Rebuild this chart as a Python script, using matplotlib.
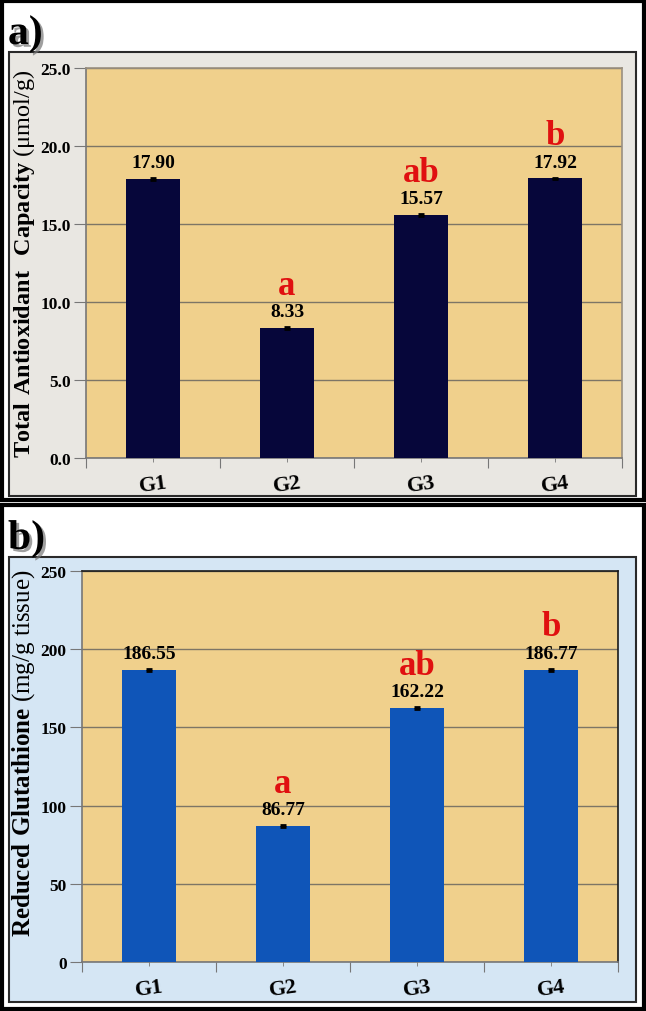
import matplotlib
matplotlib.use("Agg")
import matplotlib.pyplot as plt
import matplotlib.patheffects as pe
from matplotlib.patches import Rectangle
import numpy as np

plt.rcParams['font.family'] = ['Liberation Serif', 'DejaVu Serif']
plt.rcParams['mathtext.fontset'] = 'custom'
plt.rcParams['mathtext.rm'] = 'Liberation Serif'
plt.rcParams['mathtext.bf'] = 'Liberation Serif:bold'

groups = ["G1", "G2", "G3", "G4"]

tac_values = [17.90, 8.33, 15.57, 17.92]
tac_err = [0.05, 0.05, 0.05, 0.05]
tac_letters = ["", "a", "ab", "b"]

gsh_values = [186.55, 86.77, 162.22, 186.77]
gsh_err = [0.6, 0.6, 0.6, 0.6]
gsh_letters = ["", "a", "ab", "b"]

W, H = 646, 1012
fig = plt.figure(figsize=(W / 100, H / 100), dpi=100)
fig.patch.set_facecolor("white")


def box(x0, y0, x1, y1):
    # pixel box (top-left origin) -> figure fraction rect
    return [x0 / W, 1 - y1 / H, (x1 - x0) / W, (y1 - y0) / H]


def frame(x0, y0, x1, y1, face, edge, lw, z):
    l, b, w, h = box(x0, y0, x1, y1)
    fig.patches.append(Rectangle((l, b), w, h, transform=fig.transFigure,
                                 facecolor=face, edgecolor=edge, lw=lw, zorder=z))


# panel frames (behind the axes)
frame(2, 2, 644, 501, "white", "black", 3.0, -10)
frame(9, 53, 636, 497, "#e9e7e2", "#2a2a2a", 1.5, -9)
frame(2, 506, 644, 1010, "white", "black", 3.0, -10)
frame(9, 558, 636, 1003, "#d5e6f4", "#2a2a2a", 1.5, -9)

shadow = [pe.withSimplePatchShadow(offset=(2, -2), shadow_rgbFace="#777777", alpha=0.7)]
fig.text(8 / W, 1 - 45 / H, "a)", fontsize=30, fontweight="bold", path_effects=shadow)
fig.text(8 / W, 1 - 550 / H, "b)", fontsize=30, fontweight="bold", path_effects=shadow)


def fmt_val(v):
    return "{:.2f}".format(v)


def panel(rect, values, errs, letters, color, ymax, step, fmt, ylabel, label_y,
          label_size, spine_color):
    ax = fig.add_axes(box(*rect))
    ax.set_facecolor("#f0d08c")
    x = np.arange(len(groups))
    ax.bar(x, values, width=0.4, color=color, zorder=3,
           yerr=errs, error_kw=dict(ecolor="black", capsize=2.5, elinewidth=1.5, capthick=2))
    ax.set_xlim(-0.5, len(groups) - 0.5)
    ax.set_ylim(0, ymax)
    ticks = np.arange(0, ymax + step / 2, step)
    ax.set_yticks(ticks)
    ax.set_yticklabels([fmt.format(t) for t in ticks], fontsize=12.5, fontweight="bold")
    ax.yaxis.grid(True, color="#7d7566", lw=1, zorder=1)
    ax.set_axisbelow(True)
    ax.tick_params(axis="y", length=9, color="#777777", pad=2)
    ax.set_xticks(np.arange(-0.5, len(groups)), [""] * (len(groups) + 1))
    ax.set_xticks(x, minor=True)
    ax.set_xticklabels(groups, minor=True)
    ax.tick_params(axis="x", which="major", length=7, color="#777777")
    ax.tick_params(axis="x", which="minor", length=6, direction="inout",
                   color="#777777", labelsize=16, pad=7)
    for t in ax.get_xticklabels(minor=True):
        t.set_fontweight("bold")
        t.set_rotation(8)
    for s in ax.spines.values():
        s.set_color(spine_color)
        s.set_linewidth(1.2)
    ax.spines["left"].set_color("#777777")
    ax.spines["bottom"].set_color("#777777")
    for xi, v, e, let in zip(x, values, errs, letters):
        ax.annotate(fmt_val(v), (xi, v + e), xytext=(0, 5), textcoords="offset points",
                    ha="center", va="bottom", fontsize=14, fontweight="bold", zorder=5)
        if let:
            ax.annotate(let, (xi, v + e), xytext=(0, 18.5), textcoords="offset points",
                        ha="center", va="bottom", fontsize=25, fontweight="bold",
                        color="#e01010", zorder=5)
    fig.text(24 / W, 1 - label_y / H, ylabel, rotation=90, ha="center", va="center",
             fontsize=label_size)
    return ax


panel((86, 69, 622, 459), tac_values, tac_err, tac_letters, "#06063a", 25, 5, "{:.1f}",
      r"$\mathbf{Total\ Antioxidant\ \ Capacity}$ (μmol/g)", 264, 17.5, "#9a9080")
panel((82, 572, 618, 963), gsh_values, gsh_err, gsh_letters, "#0f55b8", 250, 50, "{:.0f}",
      r"$\mathbf{Reduced\ Glutathione}$ (mg/g tissue)", 753, 18, "#1a1a1a")

fig.savefig("out.png", dpi=100)
